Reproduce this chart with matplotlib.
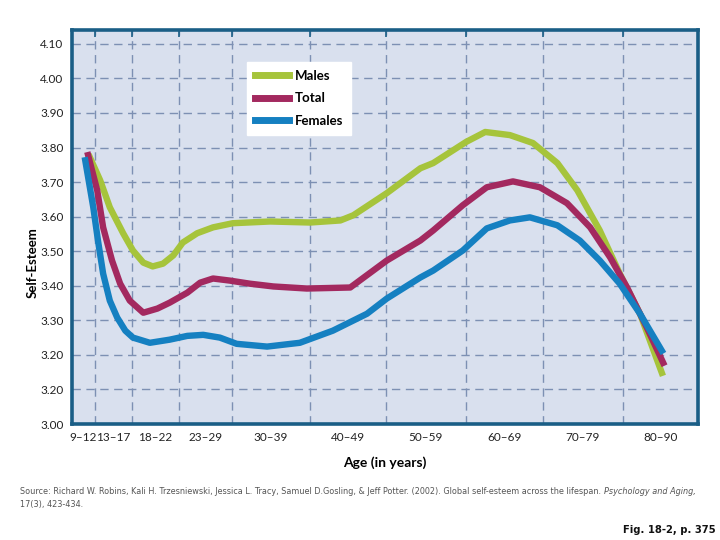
import matplotlib
matplotlib.use("Agg")
import matplotlib.pyplot as plt
import numpy as np

# age groups on the x axis and their bin edges (years)
age_groups = ["9–12", "13–17", "18–22", "23–29", "30–39", "40–49",
              "50–59", "60–69", "70–79", "80–90"]
group_centers = [10.5, 15, 20, 26, 34.5, 44.5, 54.5, 64.5, 74.5, 85]
age_edges = [8.5, 12.5, 17.5, 22.5, 29.5, 39.5, 49.5, 59.5, 69.5, 79.5, 90.5]

# y tick labels as printed (the second "3.20" is in the original)
y_ticks = [3.0, 3.1, 3.2, 3.3, 3.4, 3.5, 3.6, 3.7, 3.8, 3.9, 4.0, 4.1]
y_tick_labels = ["3.00", "3.20", "3.20", "3.30", "3.40", "3.50", "3.60",
                 "3.70", "3.80", "3.90", "4.00", "4.10"]

# curves: (age, self-esteem)
males_age = [11.6, 13.2, 14.5, 16.3, 17.6, 18.7, 19.7, 20.8, 21.9, 23.0, 24.9,
             27.0, 29.6, 34.4, 39.5, 43.5, 45.2, 49.6, 53.8, 55.4, 59.5, 62.0,
             65.2, 68.2, 71.3, 73.8, 76.6, 79.1, 82.0, 85.2]
males_val = [3.772, 3.705, 3.627, 3.552, 3.502, 3.467, 3.456, 3.464, 3.488,
             3.525, 3.552, 3.569, 3.581, 3.586, 3.583, 3.589, 3.604, 3.668,
             3.740, 3.755, 3.816, 3.845, 3.836, 3.813, 3.755, 3.676, 3.560,
             3.435, 3.319, 3.148]

total_age = [11.3, 12.8, 13.6, 14.8, 15.9, 17.2, 18.7, 20.2, 21.5, 23.6, 25.3,
             27.0, 29.2, 31.8, 34.8, 39.1, 44.8, 49.6, 53.8, 55.4, 59.1, 62.2,
             65.6, 69.1, 72.5, 75.4, 77.9, 80.1, 83.0, 85.4]
total_val = [3.778, 3.676, 3.569, 3.473, 3.406, 3.357, 3.322, 3.334, 3.351,
             3.380, 3.409, 3.421, 3.415, 3.406, 3.398, 3.392, 3.395, 3.473,
             3.531, 3.560, 3.633, 3.685, 3.702, 3.685, 3.639, 3.569, 3.482,
             3.395, 3.279, 3.177]

females_age = [10.8, 12.2, 12.9, 13.6, 14.5, 15.5, 16.6, 17.6, 19.4, 21.5, 23.6,
               25.7, 27.9, 30.1, 34.0, 38.2, 42.5, 47.0, 49.6, 53.8, 55.4, 59.1,
               62.2, 65.2, 67.8, 71.3, 74.1, 76.6, 79.1, 82.0, 85.2]
females_val = [3.763, 3.627, 3.531, 3.435, 3.357, 3.308, 3.270, 3.250, 3.235,
               3.244, 3.255, 3.258, 3.250, 3.232, 3.224, 3.235, 3.270, 3.319,
               3.363, 3.424, 3.444, 3.502, 3.566, 3.589, 3.598, 3.575, 3.531,
               3.473, 3.406, 3.319, 3.212]

# drawn width of each age bin on the page
edge_pos = [0, 23, 60, 107, 160, 238, 314, 394, 471, 551, 626]

plt.rcParams["font.family"] = ["Lato", "DejaVu Sans"]

fig = plt.figure(figsize=(7.2, 5.4), dpi=100)
ax = fig.add_axes([0.1, 0.2148, 0.8694, 0.7296])
ax.set_facecolor("#d9e0ee")

ax.set_xscale("function",
              functions=(lambda a: np.interp(a, age_edges, edge_pos),
                         lambda p: np.interp(p, edge_pos, age_edges)))
ax.set_xlim(age_edges[0], age_edges[-1])
ax.set_ylim(3.0, 4.14)

ax.plot(males_age, males_val, color="#a6c43b", lw=4.6, solid_joinstyle="round", label="Males", zorder=3)
ax.plot(total_age, total_val, color="#a3295f", lw=4.6, solid_joinstyle="round", label="Total", zorder=4)
ax.plot(females_age, females_val, color="#1580c1", lw=4.6, solid_joinstyle="round", label="Females", zorder=5)

ax.set_xticks(group_centers)
ax.set_xticklabels(age_groups)
ax.set_xticks(age_edges[1:-1], minor=True)
ax.set_yticks(y_ticks)
ax.set_yticklabels(y_tick_labels)
ax.tick_params(axis="both", which="major", length=0, labelsize=8.5, colors="#222222")
ax.tick_params(axis="x", which="major", pad=6)
ax.tick_params(axis="y", which="major", pad=6)
ax.tick_params(axis="x", which="minor", bottom=False, top=True, direction="in",
               length=5, width=1.2, color="#1a5e86")

ax.grid(True, which="minor", axis="x", color="#7d90b3", ls=(0, (6, 4)), lw=1.0)
ax.grid(True, which="major", axis="y", color="#7d90b3", ls=(0, (6, 4)), lw=1.0)
ax.set_axisbelow(True)

for sp in ax.spines.values():
    sp.set_color("#1a5e86")
    sp.set_linewidth(2.6)

ax.set_xlabel("Age (in years)", fontsize=10, fontweight="bold", labelpad=9)
ax.set_ylabel("Self-Esteem", fontsize=9.5, fontweight="bold")
ax.yaxis.set_label_coords(-0.054, 0.41)

leg = ax.legend(loc="upper left", bbox_to_anchor=(0.2796, 0.919), borderaxespad=0,
                frameon=True, fancybox=False, handlelength=2.6, handletextpad=0.4,
                labelspacing=0.8, borderpad=0.6, prop={"weight": "bold", "size": 9.5})
leg.get_frame().set_facecolor("white")
leg.get_frame().set_edgecolor("white")
leg.get_frame().set_alpha(1)
for line in leg.get_lines():
    line.set_linewidth(5)

src_main = ("Source: Richard W. Robins, Kali H. Trzesniewski, Jessica L. Tracy, Samuel D.Gosling, "
            "& Jeff Potter. (2002). Global self-esteem across the lifespan. ")
src_style = dict(fontsize=6.45, color="#555555", family="DejaVu Sans",
                 fontstretch="condensed", va="center")
t1 = fig.text(20 / 720, 1 - 491 / 540, src_main, **src_style)
fig.canvas.draw()
bb = t1.get_window_extent(renderer=fig.canvas.get_renderer())
fig.text(bb.x1 / fig.bbox.width, 1 - 491 / 540, "Psychology and Aging,",
         style="italic", **src_style)
fig.text(20 / 720, 1 - 505 / 540, "17(3), 423-434.", **src_style)
fig.text(716 / 720, 1 - 530 / 540, "Fig. 18-2, p. 375", fontsize=8, fontweight="bold",
         family="DejaVu Sans", fontstretch="condensed", ha="right", va="center",
         color="#111111")

fig.savefig("out.png", dpi=100)
